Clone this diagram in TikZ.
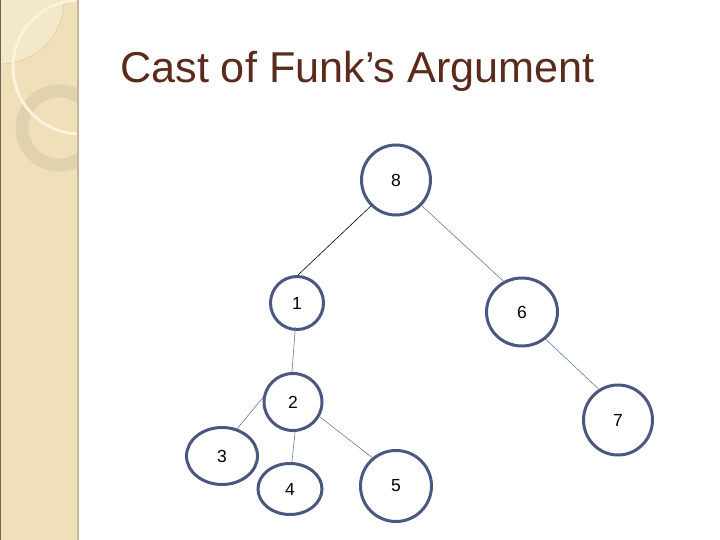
\documentclass[tikz,border=0pt]{standalone}
\usepackage{fontspec}
\setmainfont{Liberation Sans}
\usetikzlibrary{shapes.geometric}
\definecolor{band}{HTML}{EFE0BA}
\definecolor{bandlight}{HTML}{F3E8CA}
\definecolor{ringc}{HTML}{E0D2AE}
\definecolor{arcc}{HTML}{FAF2DA}
\definecolor{leftedge}{HTML}{6E6450}
\definecolor{rightedge}{HTML}{C4B796}
\definecolor{nodeline}{HTML}{4A5780}
\definecolor{edgec}{HTML}{5F7F8C}
\definecolor{titlec}{HTML}{5B2A1B}
\tikzset{
  tnode/.style={ellipse, draw=nodeline, line width=3pt, inner sep=0pt, font=\fontsize{17.5}{20}\selectfont},
  tedge/.style={draw=edgec, line width=0.6pt},
  bedge/.style={draw=black, line width=0.6pt}
}
\begin{document}
\begin{tikzpicture}[x=1pt,y=-1pt]
\useasboundingbox (0,0) rectangle (720,540);
% left band
\fill[band] (0,0) rectangle (78,540);
\begin{scope}
  \clip (0,0) rectangle (77,540);
  \fill[bandlight] (0,0) circle (64);
  \draw[ringc!85!brown, line width=0.4pt] (0,0) circle (64);
  \draw[ringc, line width=13pt] (59,128) circle (37);
  \draw[arcc, line width=3pt] (80,67) circle (67);
\end{scope}
\draw[leftedge, line width=1.2pt] (0.6,0) -- (0.6,540);
\draw[rightedge, line width=2pt] (78,0) -- (78,540);
% title
\node[anchor=base west, inner sep=0pt, text=titlec, font=\fontsize{43.2}{48}\selectfont] (title) at (120,83) {Cast of Funk’s Argument};
% nodes
\node[tnode, minimum width=69pt, minimum height=70pt] (n8) at (396,180) {8};
\node[tnode, minimum width=53pt, minimum height=53pt] (n1) at (297,303) {1};
\node[tnode, minimum width=71pt, minimum height=68pt] (n6) at (522,312) {6};
\node[tnode, minimum width=69pt, minimum height=70pt] (n7) at (618,420) {7};
\node[tnode, minimum width=58pt, minimum height=57pt] (n2) at (293,402) {2};
\node[tnode, minimum width=71pt, minimum height=57pt] (n3) at (222,456) {3};
\node[tnode, minimum width=64pt, minimum height=51pt] (n4) at (290,489) {4};
\node[tnode, minimum width=71pt, minimum height=71pt] (n5) at (396,486) {5};
% edges
\draw[bedge] (n8.226) -- (n1.88);
\draw[tedge] (n8.315) -- (n6.121);
\draw[tedge] (n6.311) -- (n7.122);
\draw[tedge, shorten <=-4pt] (n1.266) -- (n2.92);
\draw[tedge] (n2.172) -- (n3.61);
\draw[tedge] (n2.274) -- (n4.86);
\draw[tedge] (n2.331) -- (n5.130);
\end{tikzpicture}
\end{document}
